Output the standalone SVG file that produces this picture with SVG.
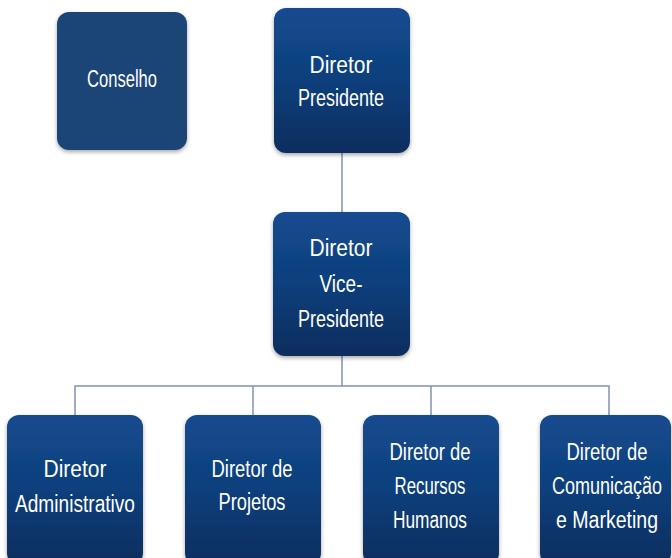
<svg xmlns="http://www.w3.org/2000/svg" width="672" height="558" viewBox="0 0 672 558">
<defs>
<linearGradient id="g" x1="0" y1="0" x2="0" y2="1">
<stop offset="0" stop-color="#144b8f"/>
<stop offset="0.5" stop-color="#0f3f7c"/>
<stop offset="1" stop-color="#0b2d5d"/>
</linearGradient>
<filter id="sh" x="-10%" y="-10%" width="120%" height="125%">
<feGaussianBlur in="SourceAlpha" stdDeviation="2"/>
<feOffset dx="0" dy="2" result="b"/>
<feComponentTransfer><feFuncA type="linear" slope="0.35"/></feComponentTransfer>
<feMerge><feMergeNode/><feMergeNode in="SourceGraphic"/></feMerge>
</filter>
</defs>
<style>
.box{fill:url(#g);filter:url(#sh);}
.flat{fill:#1f4577;filter:url(#sh);}
text{font-family:"Liberation Sans",Arial,sans-serif;font-size:23px;fill:#ffffff;text-anchor:middle;}
.c{fill:none;stroke:#7f93b2;stroke-width:1.5;}
</style>
<rect width="672" height="558" fill="#ffffff"/>
<g id="connectors">
<path class="c" d="M342 153V212"/>
<path class="c" d="M342 356V386"/>
<path class="c" d="M75 415V386H609V415"/>
<path class="c" d="M253 386V415"/>
<path class="c" d="M431 386V415"/>
</g>
<g id="conselho">
<rect class="flat" x="57" y="12" width="130" height="138" rx="12"/>
<text x="122" y="87" textLength="70" lengthAdjust="spacingAndGlyphs">Conselho</text>
</g>
<g id="presidente">
<rect class="box" x="274" y="8" width="136" height="145" rx="12"/>
<text x="341" y="73" textLength="63" lengthAdjust="spacingAndGlyphs">Diretor</text>
<text x="341" y="106" textLength="86" lengthAdjust="spacingAndGlyphs">Presidente</text>
</g>
<g id="vice">
<rect class="box" x="273" y="212" width="137" height="144" rx="12"/>
<text x="341" y="256" textLength="63" lengthAdjust="spacingAndGlyphs">Diretor</text>
<text x="341" y="292" textLength="43" lengthAdjust="spacingAndGlyphs">Vice-</text>
<text x="341" y="327" textLength="86" lengthAdjust="spacingAndGlyphs">Presidente</text>
</g>
<g id="administrativo">
<rect class="box" x="7" y="415" width="136" height="150" rx="12"/>
<text x="75" y="477" textLength="63" lengthAdjust="spacingAndGlyphs">Diretor</text>
<text x="75" y="512" textLength="120" lengthAdjust="spacingAndGlyphs">Administrativo</text>
</g>
<g id="projetos">
<rect class="box" x="185" y="415" width="136" height="150" rx="12"/>
<text x="252" y="477" textLength="81" lengthAdjust="spacingAndGlyphs">Diretor de</text>
<text x="252" y="510" textLength="67" lengthAdjust="spacingAndGlyphs">Projetos</text>
</g>
<g id="rh">
<rect class="box" x="363" y="415" width="136" height="150" rx="12"/>
<text x="430" y="460" textLength="81" lengthAdjust="spacingAndGlyphs">Diretor de</text>
<text x="430" y="494" textLength="71" lengthAdjust="spacingAndGlyphs">Recursos</text>
<text x="430" y="528" textLength="74" lengthAdjust="spacingAndGlyphs">Humanos</text>
</g>
<g id="comunicacao">
<rect class="box" x="540" y="415" width="131" height="150" rx="12"/>
<text x="607" y="460" textLength="81" lengthAdjust="spacingAndGlyphs">Diretor de</text>
<text x="607" y="494" textLength="110" lengthAdjust="spacingAndGlyphs">Comunicação</text>
<text x="607" y="528" textLength="102" lengthAdjust="spacingAndGlyphs">e Marketing</text>
</g>
</svg>
